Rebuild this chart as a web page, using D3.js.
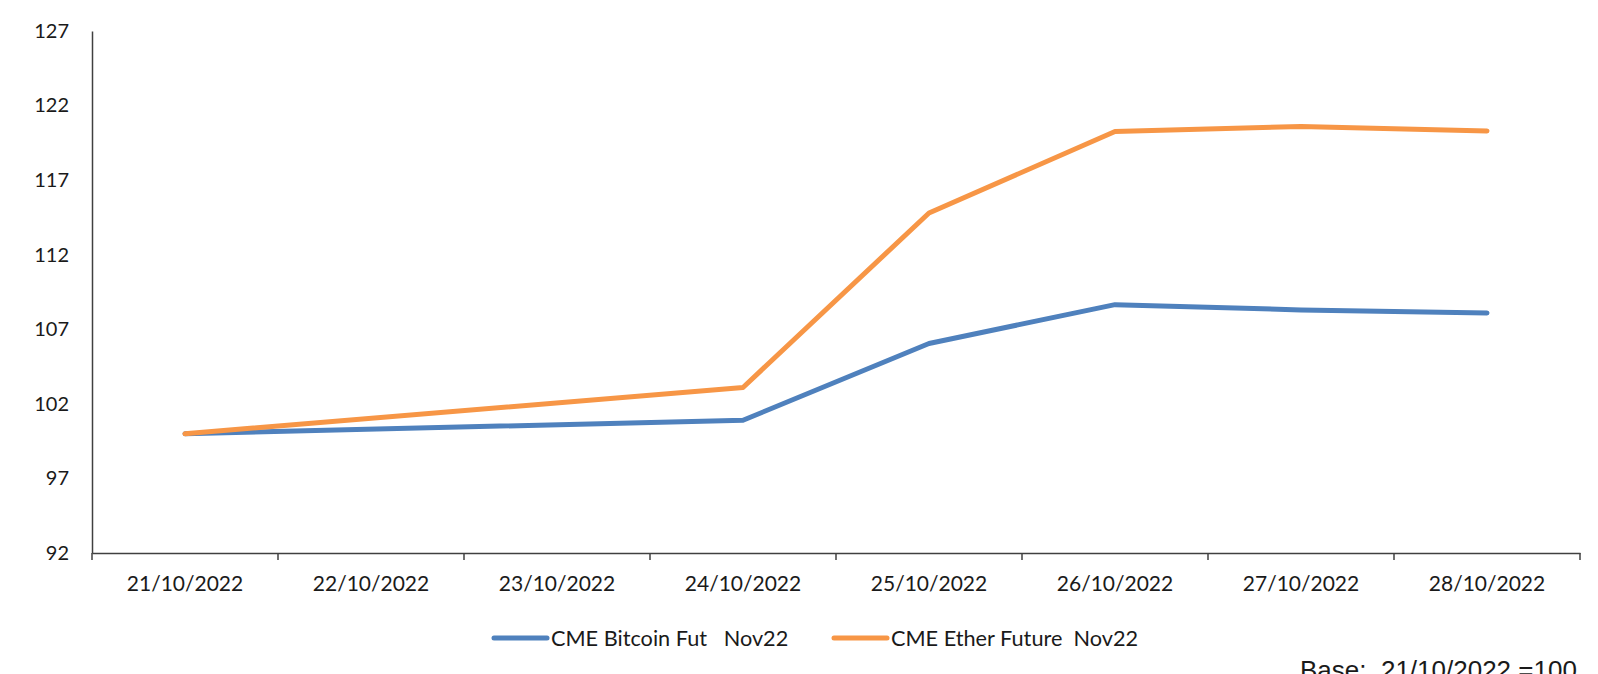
<!DOCTYPE html>
<html>
<head>
<meta charset="utf-8">
<script src="https://cdn.jsdelivr.net/npm/d3@7"></script>
<style>
  body { margin: 0; background: #fff; }
  text { font-family: Lato, "Open Sans", sans-serif; fill: #1a1a1a; }
</style>
</head>
<body>
<div id="chart"></div>
<script>
const dates = ['21/10/2022', '22/10/2022', '23/10/2022', '24/10/2022', '25/10/2022', '26/10/2022', '27/10/2022', '28/10/2022'];
const bitcoin = [100, null, null, 100.9, 106.05, 108.65, 108.3, 108.1];
const ether = [100, null, null, 103.1, 114.8, 120.26, 120.6, 120.3];
const seriesNames = ['CME Bitcoin Fut   Nov22', 'CME Ether Future  Nov22'];
const seriesColors = ['#4f81bd', '#f79646'];
const yTicks = [92, 97, 102, 107, 112, 117, 122, 127];

const chartWidth = 1598;
const chartHeight = 674;
const plotLeft = 92, plotRight = 1580, plotTop = 31, plotBottom = 553;

const svg = d3.select('#chart')
    .append('svg')
    .attr('width', chartWidth)
    .attr('height', chartHeight);

const x = d3.scaleBand().domain(dates).range([plotLeft, plotRight]);
const y = d3.scaleLinear().domain([92, 127]).range([plotBottom, plotTop]);

// y axis
const yAxis = svg.append('g')
    .attr('transform', 'translate(' + plotLeft + ',0)')
    .call(d3.axisLeft(y).tickValues(yTicks).tickSize(0).tickPadding(23));
yAxis.select('.domain').attr('stroke', '#404040').attr('stroke-width', 1.5);
yAxis.selectAll('text').style('font-size', '20px');

// x axis (labels at band centres, ticks at band edges)
const xAxis = svg.append('g')
    .attr('transform', 'translate(0,' + plotBottom + ')')
    .call(d3.axisBottom(x).tickSize(0).tickPadding(23));
xAxis.select('.domain').attr('stroke', '#404040').attr('stroke-width', 1.5);
xAxis.selectAll('text').style('font-size', '21px');

const edges = dates.map(d => x(d)).concat([x.range()[1]]);
svg.append('g')
    .selectAll('line')
    .data(edges)
    .enter()
    .append('line')
    .attr('x1', d => d)
    .attr('x2', d => d)
    .attr('y1', plotBottom)
    .attr('y2', plotBottom + 7)
    .attr('stroke', '#404040')
    .attr('stroke-width', 1.5);

// lines
const line = d3.line()
    .x(d => x(d.date) + x.bandwidth() / 2)
    .y(d => y(d.value));

[bitcoin, ether].forEach(function (values, i) {
    const pts = values
        .map((v, j) => ({ date: dates[j], value: v }))
        .filter(p => p.value !== null);
    svg.append('path')
        .datum(pts)
        .attr('d', line)
        .attr('fill', 'none')
        .attr('stroke', seriesColors[i])
        .attr('stroke-width', 5)
        .attr('stroke-linecap', 'round')
        .attr('stroke-linejoin', 'round');
});

// legend
const legendX = [494, 834];
const legend = svg.append('g').attr('class', 'legend');
seriesNames.forEach(function (name, i) {
    legend.append('line')
        .attr('x1', legendX[i])
        .attr('x2', legendX[i] + 53)
        .attr('y1', 638)
        .attr('y2', 638)
        .attr('stroke', seriesColors[i])
        .attr('stroke-width', 5)
        .attr('stroke-linecap', 'round');
    legend.append('text')
        .attr('x', legendX[i] + 57)
        .attr('y', 646)
        .attr('xml:space', 'preserve')
        .style('white-space', 'pre')
        .style('font-size', '21.7px')
        .text(name);
});

svg.append('text')
    .attr('x', 1300)
    .attr('y', 679)
    .attr('xml:space', 'preserve')
    .style('white-space', 'pre')
    .style('font-family', '"Liberation Sans", Arial, sans-serif')
    .style('font-size', '26px')
    .text('Base:  21/10/2022 =100');
</script>
</body>
</html>
